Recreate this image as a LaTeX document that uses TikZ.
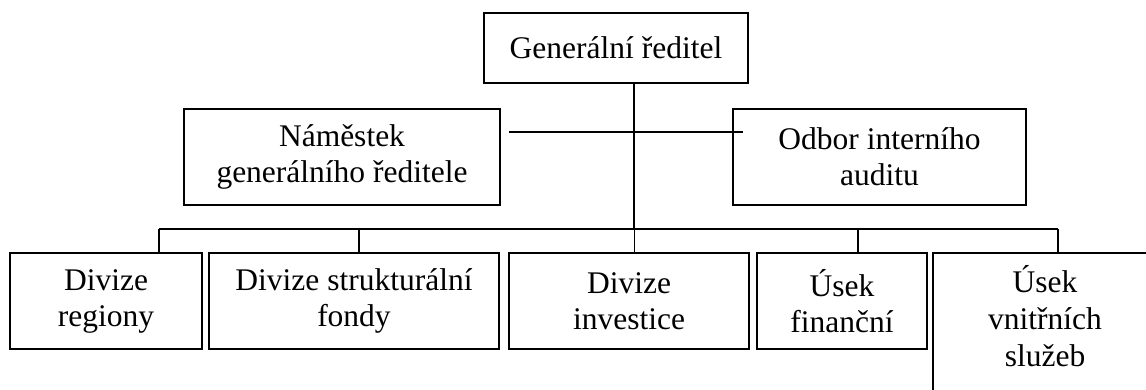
\documentclass[tikz,border=0pt]{standalone}
\usepackage{fontspec}
\setmainfont{Liberation Serif}
\begin{document}
\begin{tikzpicture}[x=1pt,y=-1pt,
  box/.style={draw, line width=1.4pt, inner sep=0pt, align=center,
    font=\fontsize{31.5}{36}\selectfont},
  txt/.style={inner sep=0pt, align=center, font=\fontsize{31.5}{37}\selectfont},
  conn/.style={line width=1.3pt},
  thin/.style={line width=0.8pt}]
\clip (0,0) rectangle (1146,389);
\fill[white] (0,0) rectangle (1146,389);
% top
\node[box, minimum width=264pt, minimum height=70pt] (gd) at (616,48) {Generální ředitel};
% middle
\node[box, minimum width=316pt, minimum height=96pt] (nam) at (342,157) {Náměstek\\generálního ředitele};
\node[box, minimum width=293pt, minimum height=96pt] (odb) at (879.5,157) {Odbor interního\\auditu};
% bottom
\node[box, minimum width=192pt, minimum height=96pt] (b1) at (106,301) {Divize\\regiony};
\node[box, minimum width=290pt, minimum height=96pt] (b2) at (354,301) {Divize strukturální\\fondy};
\node[box, minimum width=240pt, minimum height=96pt] (b3) at (629,301) {Divize\\investice};
\node[box, minimum width=170pt, minimum height=96pt] (b4) at (842,301) {Úsek\\finanční};
\node[box, minimum width=224pt, minimum height=138pt] (b5) at (1045,322) {};
\node[txt] (b5t) at (1045,316) {Úsek\\vnitřních\\služeb};
% connectors
\coordinate (top) at (634,83);
\coordinate (hub) at (634,229);
\coordinate (hl) at (509,132);
\coordinate (hr) at (743,132);
\coordinate (d1) at (159,229);
\coordinate (d2) at (359,229);
\coordinate (d4) at (858,229);
\coordinate (d5) at (1058,229);
\draw[conn] (top) -- (hub);
\draw[conn] (hl) -- (hr);
\draw[conn] (d1) -- (d5);
\draw[conn] (d1) -- (d1 |- b1.north);
\draw[conn] (d2) -- (d2 |- b2.north);
\draw[thin] (hub) -- (hub |- b3.north);
\draw[conn] (d4) -- (d4 |- b4.north);
\draw[conn] (d5) -- (d5 |- b5.north);
\end{tikzpicture}
\end{document}
